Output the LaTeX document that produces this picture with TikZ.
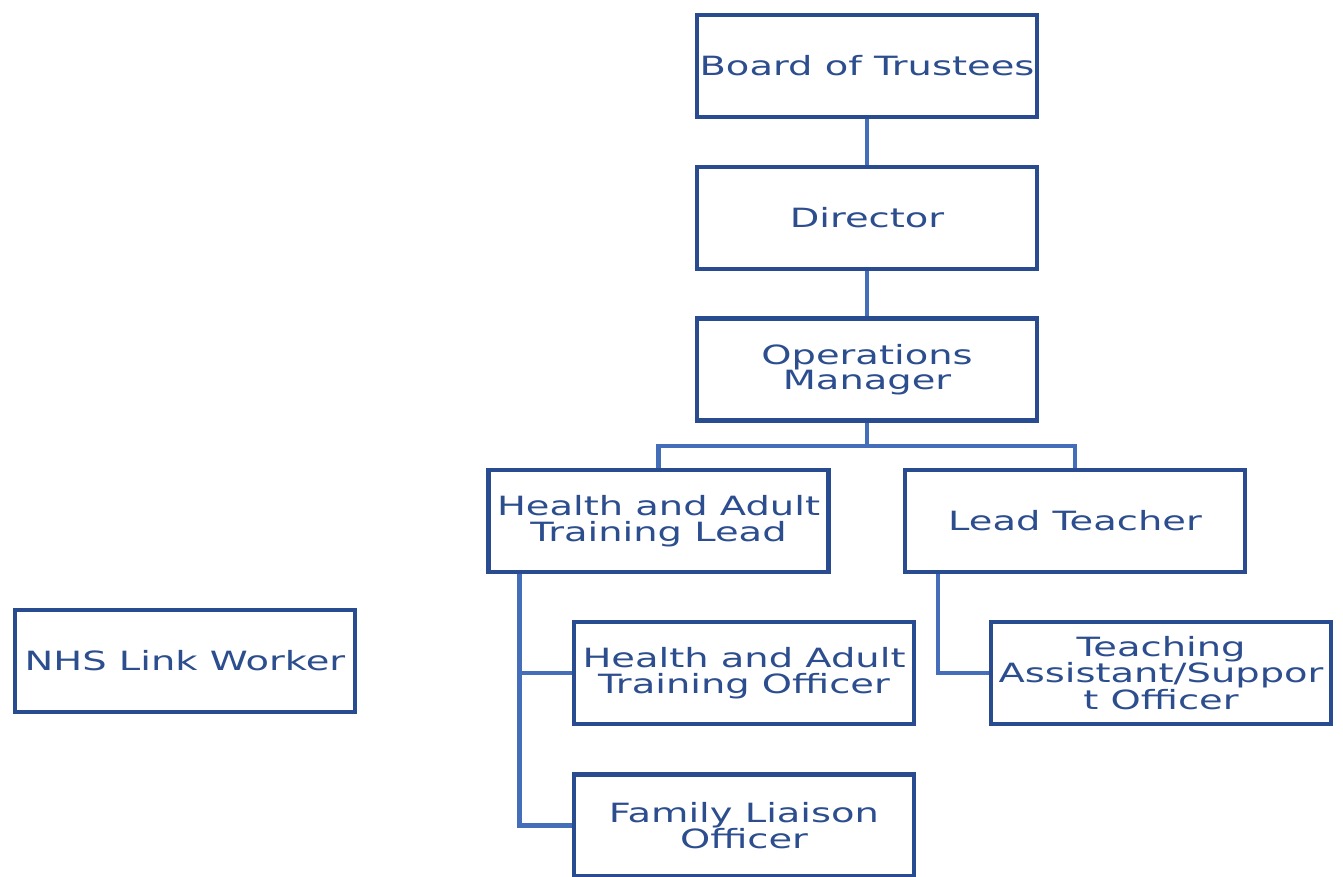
\documentclass[tikz,border=0pt]{standalone}
\usepackage{fontspec}
\setmainfont{DejaVu Sans}[FakeStretch=1.45]
\definecolor{boxc}{RGB}{40,76,143}
\definecolor{linec}{RGB}{68,110,185}
\definecolor{textc}{RGB}{44,78,142}
\begin{document}
\begin{tikzpicture}[x=1pt,y=-1pt,
  orgbox/.style={draw=boxc, line width=4.3pt, fill=white, minimum width=340pt, minimum height=102pt,
    inner sep=0pt, align=center, text=textc, font=\fontsize{26.5}{25.5}\selectfont},
  conn/.style={draw=linec, line width=4.3pt}]
\useasboundingbox (0,0) rectangle (1343,877);
\node[orgbox] (board) at (867,66) {Board of Trustees};
\node[orgbox] (dir) at (867,218) {Director};
\node[orgbox] (ops) at (867,369.5) {Operations\\Manager};
\node[orgbox] (hatl) at (658.5,521) {Health and Adult\\Training Lead};
\node[orgbox] (lt) at (1075,521) {Lead Teacher};
\node[orgbox] (nhs) at (185,661) {NHS Link Worker};
\node[orgbox] (hato) at (744,673) {Health and Adult\\Training Officer};
\node[orgbox] (flo) at (744,825.5) {Family Liaison\\Officer};
\node[orgbox] (ta) at (1161,673) {Teaching\\Assistant/Suppor\\t Officer};
\draw[conn] (board.south) -- (dir.north);
\draw[conn] (dir.south) -- (ops.north);
\coordinate (opsbus) at ([yshift=-23pt]ops.south);
\draw[conn] (ops.south) -- (opsbus);
\draw[conn] (opsbus) -| (hatl.north);
\draw[conn] (opsbus) -| (lt.north);
\coordinate (hatlleg) at ([xshift=33pt]hatl.south west);
\draw[conn] (hatlleg) |- (hato.west);
\draw[conn] (hatlleg) |- (flo.west);
\coordinate (ltleg) at ([xshift=35pt]lt.south west);
\draw[conn] (ltleg) |- (ta.west);
\end{tikzpicture}
\end{document}
